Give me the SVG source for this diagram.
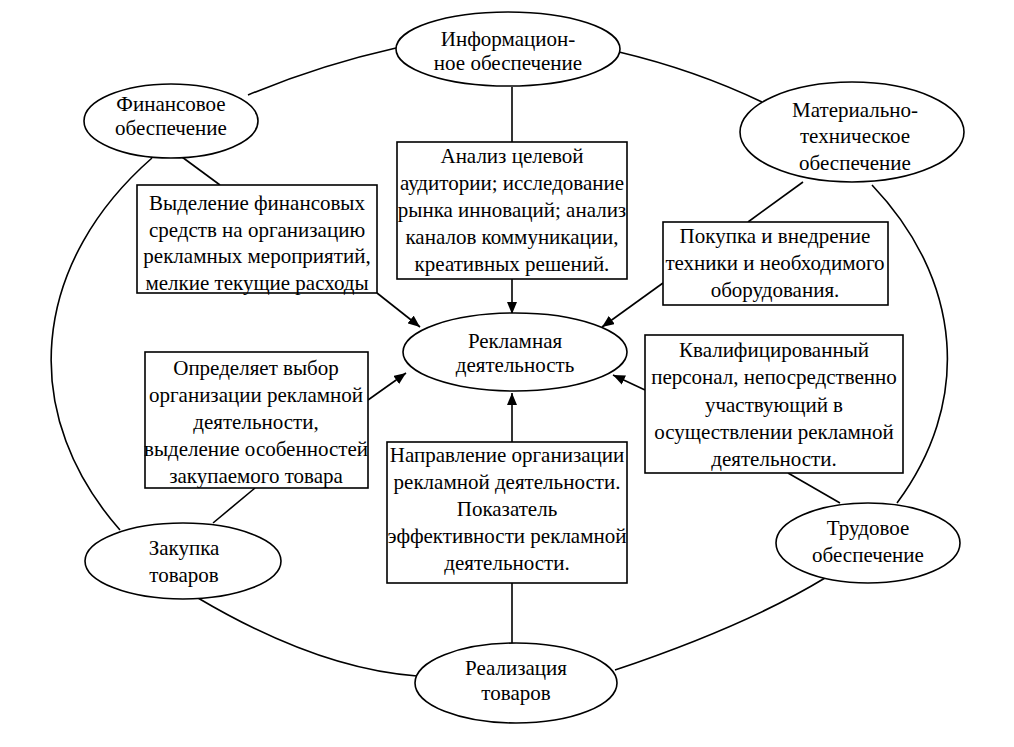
<svg xmlns="http://www.w3.org/2000/svg" width="1014" height="747" viewBox="0 0 1014 747">
<style>
.e{fill:#fff;stroke:#000;stroke-width:1.6}
.b{fill:#fff;stroke:#000;stroke-width:1.6}
.c{fill:none;stroke:#000;stroke-width:1.6}
text{font-family:"Liberation Serif","Times New Roman",serif;font-size:21px;fill:#000;text-anchor:middle}
</style>
<defs>
<marker id="ah" markerWidth="12" markerHeight="10" refX="12" refY="5" orient="auto" markerUnits="userSpaceOnUse">
<path d="M0,0 L12,5 L0,10 Z" fill="#000"/>
</marker>
</defs>
<rect width="1014" height="747" fill="#fff"/>
<g id="connectors">
<path class="c" d="M152,158 A450,320 0 0 0 120,530"/>
<path class="c" d="M872,185 A470,320 0 0 1 897,503"/>
<path class="c" d="M198,598 Q318,669 417,676"/>
<path class="c" d="M615,670 Q746,626 825,578"/>
<path class="c" d="M248,95 Q320,65 396,48"/>
<path class="c" d="M619,52 Q695,70 762,102"/>
<line class="c" x1="512" y1="87" x2="512" y2="142"/>
<line class="c" x1="182" y1="157" x2="220" y2="185"/>
<line class="c" x1="803" y1="182" x2="748" y2="222"/>
<line class="c" x1="255" y1="488" x2="213" y2="523"/>
<line class="c" x1="788" y1="473" x2="840" y2="503"/>
<line class="c" x1="512" y1="583" x2="512" y2="643"/>
<line class="c" x1="512" y1="279" x2="512" y2="314" marker-end="url(#ah)"/>
<line class="c" x1="377" y1="293" x2="420" y2="327" marker-end="url(#ah)"/>
<line class="c" x1="663" y1="283" x2="602" y2="327" marker-end="url(#ah)"/>
<line class="c" x1="368" y1="400" x2="406" y2="373" marker-end="url(#ah)"/>
<line class="c" x1="645" y1="390" x2="613" y2="375" marker-end="url(#ah)"/>
<line class="c" x1="512" y1="442" x2="512" y2="393" marker-end="url(#ah)"/>
</g>
<g id="info">
<ellipse class="e" cx="508" cy="49" rx="112" ry="37"/>
<text x="508" y="46">Информацион-</text>
<text x="508" y="70">ное обеспечение</text>
</g>
<g id="finance">
<ellipse class="e" cx="171" cy="121" rx="87" ry="37"/>
<text x="171" y="111">Финансовое</text>
<text x="171" y="135">обеспечение</text>
</g>
<g id="material">
<ellipse class="e" cx="852" cy="132" rx="112" ry="50"/>
<text x="855" y="117">Материально-</text>
<text x="855" y="143">техническое</text>
<text x="855" y="170">обеспечение</text>
</g>
<g id="central">
<ellipse class="e" cx="515" cy="352" rx="112" ry="39"/>
<text x="515" y="348">Рекламная</text>
<text x="515" y="372">деятельность</text>
</g>
<g id="purchase">
<ellipse class="e" cx="183" cy="561" rx="98" ry="38"/>
<text x="184" y="555">Закупка</text>
<text x="184" y="582">товаров</text>
</g>
<g id="labor">
<ellipse class="e" cx="868" cy="543" rx="92" ry="40"/>
<text x="868" y="535">Трудовое</text>
<text x="868" y="562">обеспечение</text>
</g>
<g id="sales">
<ellipse class="e" cx="516" cy="683" rx="101" ry="40"/>
<text x="516" y="675">Реализация</text>
<text x="516" y="700">товаров</text>
</g>
<g id="box-info">
<rect class="b" x="397" y="142" width="230" height="137"/>
<text x="512" y="163">Анализ целевой</text>
<text x="512" y="190">аудитории; исследование</text>
<text x="512" y="217">рынка инноваций; анализ</text>
<text x="512" y="244">каналов коммуникации,</text>
<text x="512" y="271">креативных решений.</text>
</g>
<g id="box-finance">
<rect class="b" x="137" y="185" width="240" height="108"/>
<text x="257" y="210">Выделение финансовых</text>
<text x="257" y="237">средств на организацию</text>
<text x="257" y="263">рекламных мероприятий,</text>
<text x="257" y="290">мелкие текущие расходы</text>
</g>
<g id="box-material">
<rect class="b" x="663" y="222" width="225" height="83"/>
<text x="775" y="243">Покупка и внедрение</text>
<text x="775" y="270">техники и необходимого</text>
<text x="775" y="297">оборудования.</text>
</g>
<g id="box-purchase">
<rect class="b" x="145" y="352" width="223" height="136"/>
<text x="256" y="375">Определяет выбор</text>
<text x="256" y="402">организации рекламной</text>
<text x="256" y="429">деятельности,</text>
<text x="256" y="456">выделение особенностей</text>
<text x="256" y="483">закупаемого товара</text>
</g>
<g id="box-labor">
<rect class="b" x="645" y="335" width="258" height="138"/>
<text x="774" y="357">Квалифицированный</text>
<text x="774" y="384">персонал, непосредственно</text>
<text x="774" y="412">участвующий в</text>
<text x="774" y="439">осуществлении рекламной</text>
<text x="774" y="466">деятельности.</text>
</g>
<g id="box-sales">
<rect class="b" x="387" y="442" width="240" height="141"/>
<text x="507" y="462">Направление организации</text>
<text x="507" y="489">рекламной деятельности.</text>
<text x="507" y="516">Показатель</text>
<text x="507" y="543">эффективности рекламной</text>
<text x="507" y="570">деятельности.</text>
</g>
</svg>
